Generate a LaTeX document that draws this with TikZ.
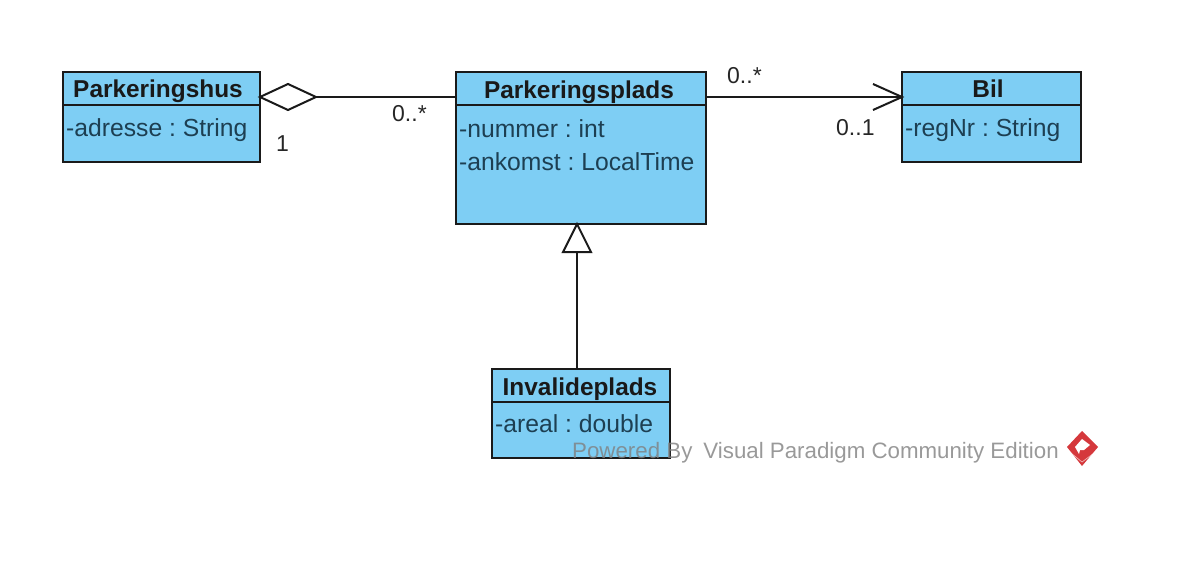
\documentclass[tikz,border=0pt]{standalone}
\usepackage{fontspec}
\setmainfont{Liberation Sans}
\usetikzlibrary{calc}
\definecolor{classfill}{HTML}{7ECEF4}
\definecolor{classline}{HTML}{1A1A1A}
\definecolor{attrtext}{HTML}{1D3F52}
\definecolor{vpred}{HTML}{D5383C}
\tikzset{
  x=1pt,y=-1pt,
  boxpart/.style={draw=classline,fill=classfill,line width=2pt,inner sep=0pt,outer sep=0pt,anchor=north west},
  titletext/.style={font=\fontsize{24.4}{28}\selectfont\bfseries,text=black!90,inner sep=0pt,anchor=base},
  attrlabel/.style={font=\frenchspacing\fontsize{24.7}{28}\selectfont,text=attrtext,inner sep=0pt,anchor=base west},
  multlabel/.style={font=\fontsize{23}{28}\selectfont,text=black!85,inner sep=0pt,anchor=base west},
  conn/.style={draw=classline,line width=2pt},
  openhead/.style={draw=classline,line width=2pt,fill=white,line join=miter},
}
\begin{document}
\begin{tikzpicture}
\useasboundingbox (0,0) rectangle (1192,562);
% Parkeringshus
\node[boxpart,minimum width=197pt,minimum height=33pt] (husT) at (63,72) {};
\node[boxpart,minimum width=197pt,minimum height=57pt] (husB) at (63,105) {};
\node[titletext] at (158,97) {Parkeringshus};
\node[attrlabel] at (66,136) {-adresse : String};
% Parkeringsplads
\node[boxpart,minimum width=250pt,minimum height=33pt] (pladsT) at (456,72) {};
\node[boxpart,minimum width=250pt,minimum height=119pt] (pladsB) at (456,105) {};
\node[titletext] at (579,98) {Parkeringsplads};
\node[attrlabel] at (459,137) {-nummer : int};
\node[attrlabel] at (459,170) {-ankomst : LocalTime};
% Bil
\node[boxpart,minimum width=179pt,minimum height=33pt] (bilT) at (902,72) {};
\node[boxpart,minimum width=179pt,minimum height=57pt] (bilB) at (902,105) {};
\node[titletext] at (988,97) {Bil};
\node[attrlabel] at (905,136) {-regNr : String};
% Invalideplads
\node[boxpart,minimum width=178pt,minimum height=33pt] (invT) at (492,369) {};
\node[boxpart,minimum width=178pt,minimum height=56pt] (invB) at (492,402) {};
\node[titletext] at (580,395) {Invalideplads};
\node[attrlabel] at (495,432) {-areal : double};
% connector anchors
\coordinate (husC) at ($(husT.north east)+(0,25)$);
\coordinate (plLeft) at ($(pladsT.north west)+(0,25)$);
\coordinate (plRight) at ($(pladsT.north east)+(0,25)$);
\coordinate (bilC) at ($(bilT.north west)+(0,25)$);
\coordinate (plBot) at ($(pladsB.south west)+(121,0)$);
\coordinate (invTop) at ($(invT.north west)+(85,0)$);
% aggregation
\draw[conn] ($(husC)+(56,0)$) -- (plLeft);
\draw[openhead] (husC) -- ++(28,-13) -- ++(28,13) -- ++(-28,13) -- cycle;
% directed association
\draw[conn] (plRight) -- (bilC);
\draw[conn,line join=miter] ($(bilC)+(-29,-13)$) -- (bilC) -- ($(bilC)+(-29,13)$);
% generalisation
\draw[conn] (invTop) -- ($(plBot)+(0,29)$);
\draw[openhead] (plBot) -- ++(14,28) -- ++(-28,0) -- cycle;
% multiplicities
\node[multlabel] at (392,121) {0..*};
\node[multlabel] at (276,151) {1};
\node[multlabel] at (727,83) {0..*};
\node[multlabel] at (836,135) {0..1};
% watermark
\node[font=\frenchspacing\fontsize{22.3}{26}\selectfont,text=black!50,opacity=.8,inner sep=0pt,anchor=base west] at (572,458) {Powered By\hspace{11pt}Visual Paradigm Community Edition};
% logo
\fill[vpred] (1082,431) -- (1098,447) -- (1082,466) -- (1067,447) -- cycle;
\fill[white] (1082,439) -- (1090,445) -- (1084,450) -- (1080,450) -- (1079,454) -- (1075,447) -- cycle;
\draw[white,opacity=.6,line width=.7pt] (1071,453) -- (1082,462) -- (1094,453);
\end{tikzpicture}
\end{document}
